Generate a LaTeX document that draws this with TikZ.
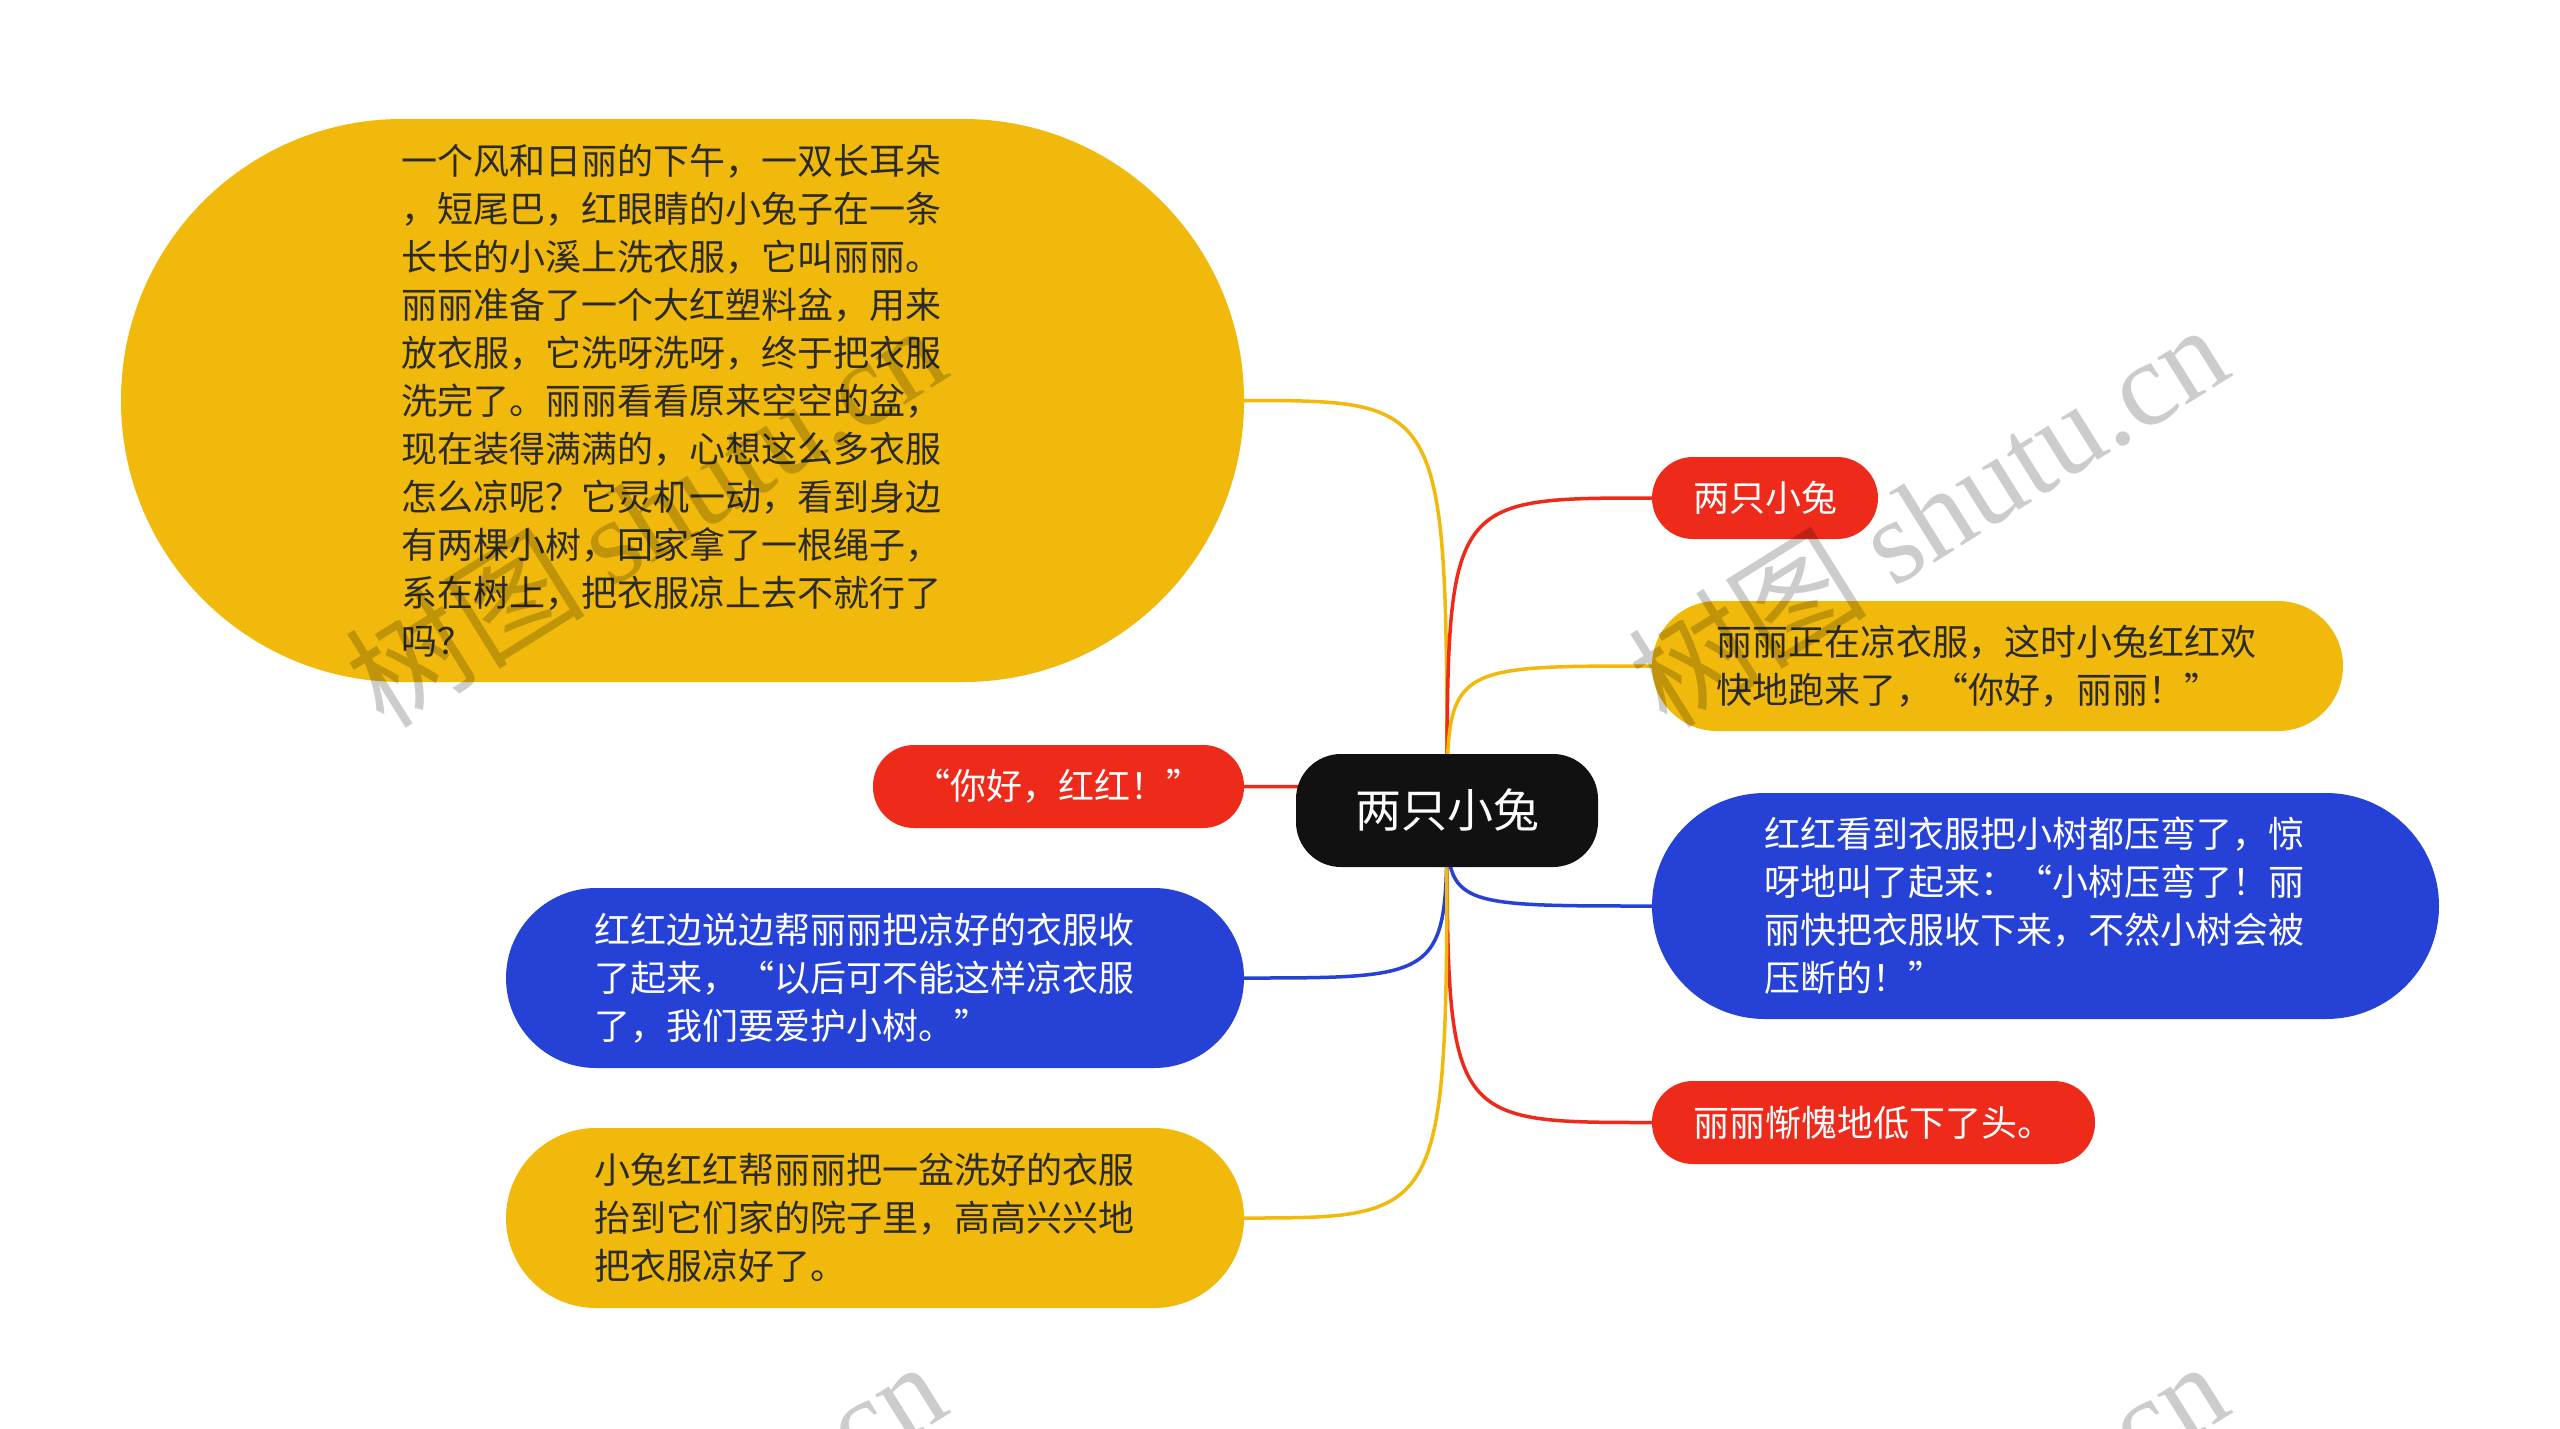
\documentclass[tikz,border=0pt]{standalone}
\usepackage{fontspec}
\setmainfont{Noto Sans CJK SC}
\newfontfamily\wmlatin{Liberation Serif}
\usetikzlibrary{backgrounds}
\definecolor{mmYellow}{HTML}{F0B90C}
\definecolor{mmRed}{HTML}{EE2A1A}
\definecolor{mmBlue}{HTML}{2541D6}
\definecolor{mmBlack}{HTML}{111111}
\definecolor{mmInk}{HTML}{2B2B2B}

\begin{document}
\begin{tikzpicture}[x=1pt,y=-1pt,
 pill/.style={fill=#1,inner sep=0pt,align=left,font=\fontsize{36}{48}\selectfont},
 pill/.default=mmYellow,
 dark/.style={pill=#1,text=white},
 para/.style={text width=562pt},
 link/.style={draw=#1,line width=3.5pt},
 wm/.style={rotate=32,text=black,text opacity=0.2,font=\fontsize{120}{120}\selectfont}]
\useasboundingbox (0,0) rectangle (2560,1428);
\node[dark=mmBlack,minimum width=302,minimum height=113,rounded corners=45,font=\fontsize{46}{56}\selectfont] (root) at (1447,810.5) {两只小兔};
\node[pill,para,text=mmInk,minimum width=1123,minimum height=563,rounded corners=281] (story) at (682.5,400.5) {一个风和日丽的下午，一双长耳朵\\，短尾巴，红眼睛的小兔子在一条\\长长的小溪上洗衣服，它叫丽丽。\\丽丽准备了一个大红塑料盆，用来\\放衣服，它洗呀洗呀，终于把衣服\\洗完了。丽丽看看原来空空的盆，\\现在装得满满的，心想这么多衣服\\怎么凉呢？它灵机一动，看到身边\\有两棵小树，回家拿了一根绳子，\\系在树上，把衣服凉上去不就行了\\吗？};
\node[dark=mmRed,minimum width=226,minimum height=82,rounded corners=41] (title) at (1765,498) {两只小兔};
\node[pill,para,text=mmInk,minimum width=691,minimum height=130,rounded corners=65] (run) at (1997.5,666) {丽丽正在凉衣服，这时小兔红红欢\\快地跑来了，“你好，丽丽！”};
\node[dark=mmBlue,para,minimum width=787,minimum height=226,rounded corners=113] (bent) at (2045.5,906) {红红看到衣服把小树都压弯了，惊\\呀地叫了起来：“小树压弯了！丽\\丽快把衣服收下来，不然小树会被\\压断的！”};
\node[dark=mmRed,minimum width=443,minimum height=83,rounded corners=41] (shame) at (1873.5,1122.5) {丽丽惭愧地低下了头。};
\node[dark=mmRed,minimum width=371,minimum height=83,rounded corners=41] (hello) at (1058.5,786.5) {“你好，红红！”};
\node[dark=mmBlue,para,minimum width=738,minimum height=180,rounded corners=90] (take) at (875,978) {红红边说边帮丽丽把凉好的衣服收\\了起来，“以后可不能这样凉衣服\\了，我们要爱护小树。”};
\node[pill,para,text=mmInk,minimum width=738,minimum height=180,rounded corners=90] (carry) at (875,1218) {小兔红红帮丽丽把一盆洗好的衣服\\抬到它们家的院子里，高高兴兴地\\把衣服凉好了。};
\begin{scope}[on background layer]
\fill[white] (0,0) rectangle (2560,1428);
\draw[link=mmYellow] (root.center) .. controls (root.center |- story) .. (story.east);
\draw[link=mmRed] (root.center) .. controls (root.center |- title) .. (title.west);
\draw[link=mmYellow] (root.center) .. controls (root.center |- run) .. (run.west);
\draw[link=mmBlue] (root.center) .. controls (root.center |- bent) .. (bent.west);
\draw[link=mmRed] (root.center) .. controls (root.center |- shame) .. (shame.west);
\draw[link=mmRed] (root.center) .. controls (root.center |- hello) .. (hello.east);
\draw[link=mmBlue] (root.center) .. controls (root.center |- take) .. (take.east);
\draw[link=mmYellow] (root.center) .. controls (root.center |- carry) .. (carry.east);
\end{scope}
\node[wm] (wm1) at (645,514) {树图 {\wmlatin shutu.cn}};
\node[wm] (wm2) at (1927,514) {树图 {\wmlatin shutu.cn}};
\node[wm] (wm3) at (645,1551) {树图 {\wmlatin shutu.cn}};
\node[wm] (wm4) at (1927,1551) {树图 {\wmlatin shutu.cn}};
\end{tikzpicture}
\end{document}
